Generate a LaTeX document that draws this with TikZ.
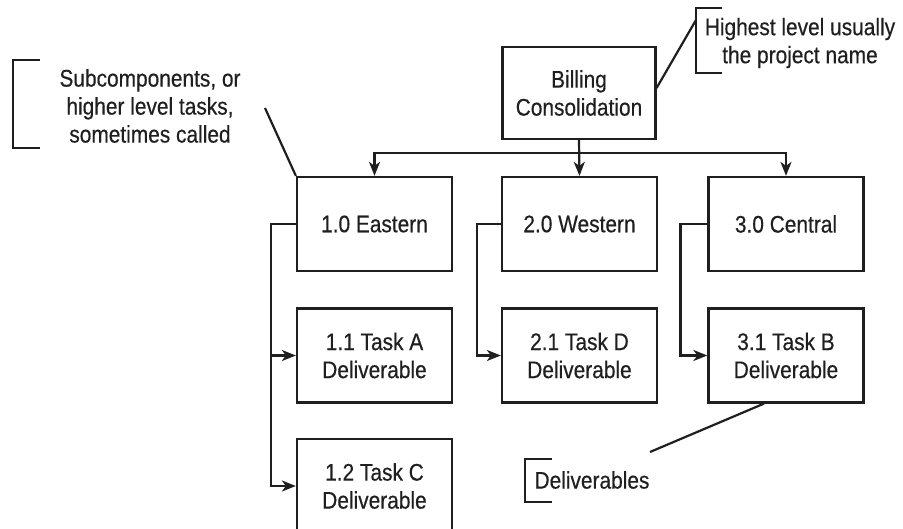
\documentclass[tikz,border=0pt]{standalone}
\usepackage{fontspec}
\setmainfont{Liberation Sans}[FakeStretch=0.87,FakeBold=0.4]
\usetikzlibrary{arrows.meta}
\definecolor{ink}{HTML}{1F1F1F}

\begin{document}
\begin{tikzpicture}[x=1pt,y=-1pt,line width=2.2pt,draw=ink,
  wbsbox/.style={draw,line width=2.2pt,minimum width=155pt,minimum height=94pt,inner sep=0pt,align=center,font=\fontsize{24}{28}\selectfont,text=ink},
  note/.style={inner sep=0pt,align=center,font=\fontsize{24}{28}\selectfont,text=ink},
  arr/.style={-{Stealth[length=14pt,width=11pt,inset=4pt]}}]
\path[use as bounding box] (0,0) rectangle (903,529);
\clip (0,0) rectangle (903,529);
% top level
\node[wbsbox,minimum width=153pt,minimum height=92pt] (billing) at (579,93) {Billing\\Consolidation};
% subcomponents
\node[wbsbox] (eastern) at (374.5,224) {1.0 Eastern};
\node[wbsbox] (western) at (579.5,224) {2.0 Western};
\node[wbsbox] (central) at (786,224) {3.0 Central};
% deliverables
\node[wbsbox] (taskA) at (374.5,355.5) {1.1 Task A\\Deliverable};
\node[wbsbox] (taskD) at (579.5,355.5) {2.1 Task D\\Deliverable};
\node[wbsbox] (taskB) at (786,355.5) {3.1 Task B\\Deliverable};
\node[wbsbox] (taskC) at (374.5,486) {1.2 Task C\\Deliverable};
\coordinate (bar) at (579.5,153);
\draw[arr] (billing.south) -- (western.north);
\draw[arr] (bar) -| (eastern.north);
\draw[arr] (bar) -| (central.north);
\draw[arr] (eastern.west) -- ++(-25,0) |- (taskA.west);
\draw[arr] (eastern.west) -- ++(-25,0) |- (taskC.west);
\draw[arr] (western.west) -- ++(-24,0) |- (taskD.west);
\draw[arr] (central.west) -- ++(-27,0) |- (taskB.west);
% call-outs
\node[note] (subnote) at (150,106) {Subcomponents, or\\higher level tasks,\\sometimes called};
\draw (40,60) -- (13,60) -- (13,148) -- (40,148);
\coordinate (subtip) at (265,108);
\draw (subtip) -- (eastern.north west);
\node[note] (topnote) at (800,43) {Highest level usually\\the project name};
\draw (722,8) -- (696,8) -- (696,73) -- (722,73);
\coordinate (toptip) at (696,20);
\draw ([yshift=5pt]billing.east) -- (toptip);
\node[note] (delnote) at (592,480) {Deliverables};
\draw (552,459) -- (525,459) -- (525,502) -- (552,502);
\coordinate (deltip) at (650,452);
\draw (deltip) -- ([xshift=-22pt]taskB.south);
\end{tikzpicture}
\end{document}
